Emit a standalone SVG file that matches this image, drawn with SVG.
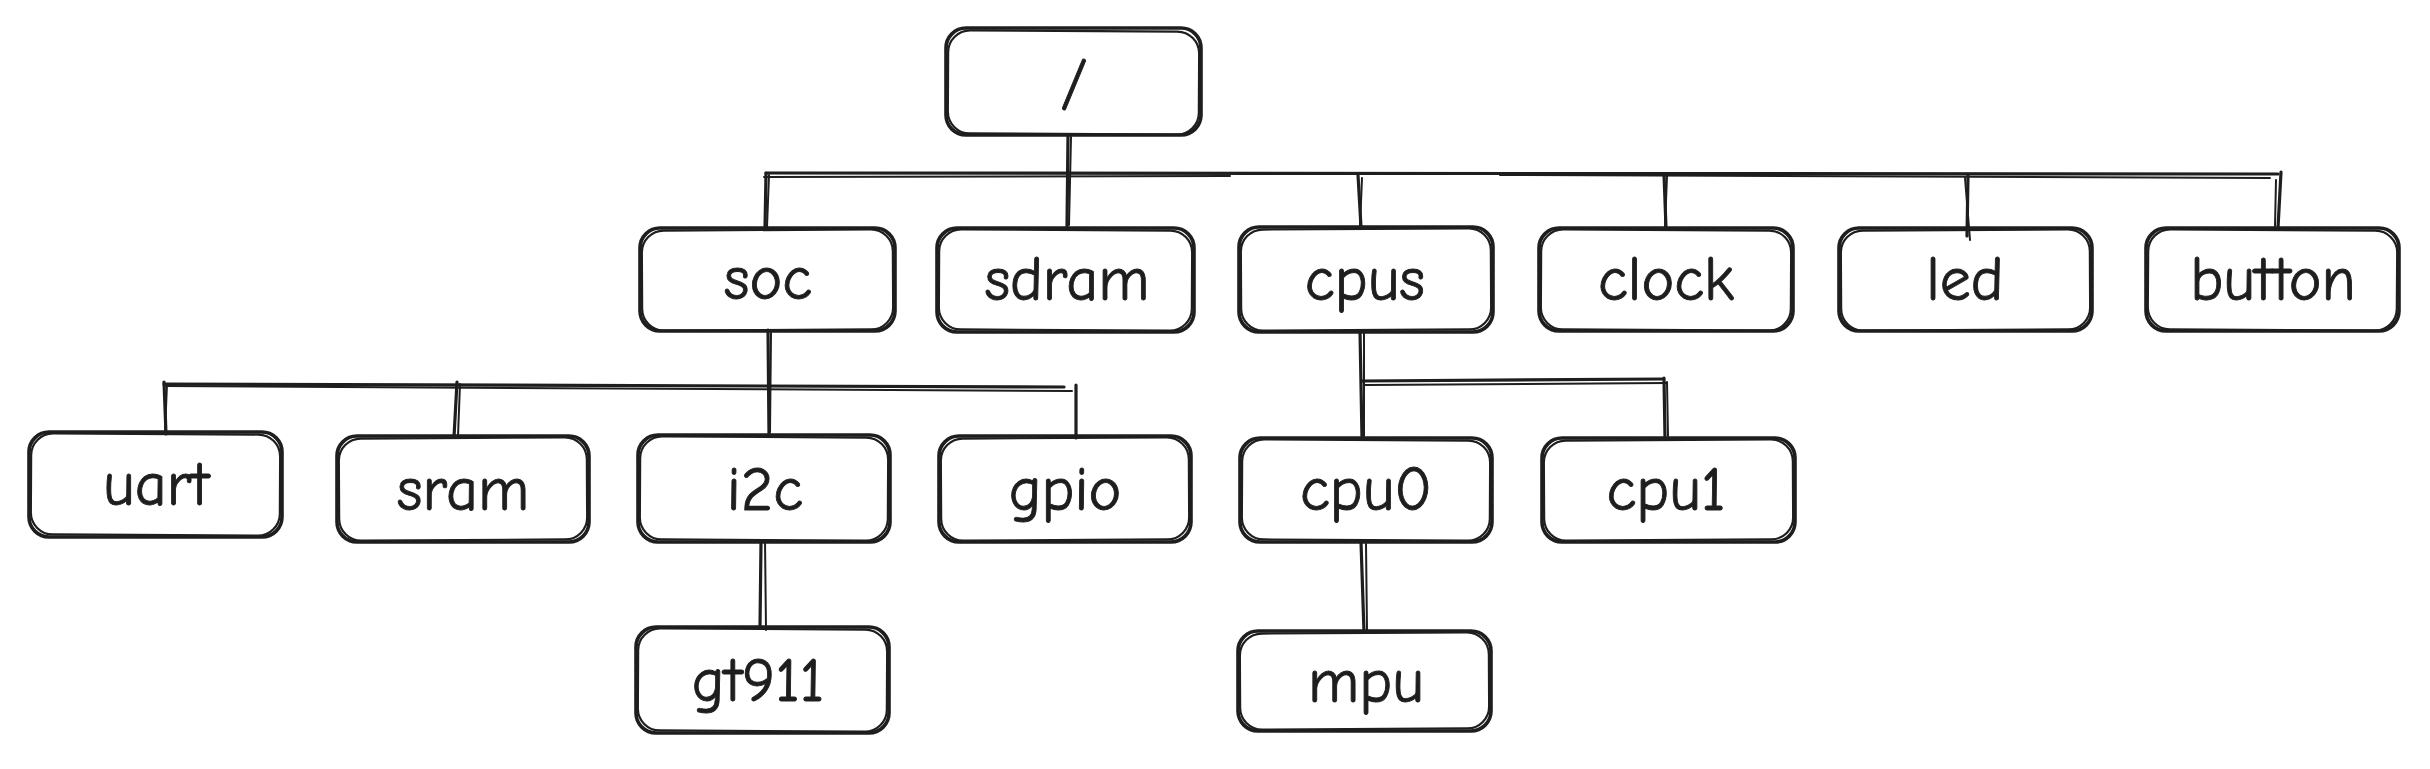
<svg xmlns="http://www.w3.org/2000/svg" width="2430" height="769" viewBox="0 0 2430 769">
<style>
.bg{fill:#ffffff}
.b1{fill:none;stroke:#1e1e1e;stroke-width:3.6;stroke-linecap:round;stroke-linejoin:round}
.b2{fill:none;stroke:#1e1e1e;stroke-width:2.2;stroke-linecap:round;stroke-linejoin:round}
.c1{fill:none;stroke:#1e1e1e;stroke-width:3.2;stroke-linecap:round}
.c2{fill:none;stroke:#1e1e1e;stroke-width:2;stroke-linecap:round}
.t{font-family:"Comic Neue","Liberation Sans",Arial,sans-serif;font-size:62px;fill:#1e1e1e;stroke:#1e1e1e;stroke-width:0.9;text-anchor:middle}
</style>
<rect class="bg" x="0" y="0" width="2430" height="769"/>
<g id="connectors">
  <path class="c1" d="M1068 135 L1067 226"/>
  <path class="c2" d="M1071 137 L1069 225"/>
  <path class="c1" d="M766 173 L2278 174"/>
  <path class="c2" d="M764 177 L1230 176 M1500 175 L2270 178"/>
  <path class="c1" d="M766 173 L765 228"/>
  <path class="c2" d="M769 175 L767 227"/>
  <path class="c1" d="M1358 175 L1361 227"/>
  <path class="c2" d="M1362 178 L1360 226"/>
  <path class="c1" d="M1664 174 L1666 228"/>
  <path class="c2" d="M1667 176 L1665 226"/>
  <path class="c1" d="M1968 175 L1967 236"/>
  <path class="c2" d="M1965 178 L1970 240"/>
  <path class="c1" d="M2281 172 L2278 228"/>
  <path class="c2" d="M2276 180 L2275 226"/>
  <path class="c1" d="M768 330 L769 435"/>
  <path class="c2" d="M771 333 L770 432"/>
  <path class="c1" d="M164 384 L1064 387"/>
  <path class="c2" d="M166 386 L1072 391"/>
  <path class="c1" d="M164 382 L166 434"/>
  <path class="c2" d="M167 384 L165 432"/>
  <path class="c1" d="M457 382 L454 437"/>
  <path class="c2" d="M460 384 L458 436"/>
  <path class="c1" d="M1076 385 L1076 438"/>
  <path class="c1" d="M761 542 L760 627"/>
  <path class="c2" d="M765 540 L766 630"/>
  <path class="c1" d="M1360 331 L1362 438"/>
  <path class="c2" d="M1364 333 L1364 436"/>
  <path class="c1" d="M1362 381 L1663 379"/>
  <path class="c2" d="M1365 385 L1666 383"/>
  <path class="c1" d="M1664 378 L1665 438"/>
  <path class="c2" d="M1667 382 L1668 436"/>
  <path class="c1" d="M1361 542 L1364 632"/>
  <path class="c2" d="M1366 544 L1367 630"/>
</g>
<g id="node-root">
  <rect class="b1" x="946" y="28" width="255" height="107" rx="20"/>
  <rect class="b2" x="948" y="31" width="251" height="103" rx="22" transform="rotate(0.3 1073 82)"/>
  <text class="t" x="1074" y="102">/</text>
</g>
<g id="node-soc">
  <rect class="b1" x="640" y="228" width="255" height="103" rx="20"/>
  <rect class="b2" x="642" y="230" width="251" height="100" rx="22" transform="rotate(-0.3 767 280)"/>
  <text class="t" x="768" y="299">soc</text>
</g>
<g id="node-sdram">
  <rect class="b1" x="937" y="228" width="257" height="104" rx="20"/>
  <rect class="b2" x="939" y="230" width="253" height="100" rx="22" transform="rotate(0.3 1066 280)"/>
  <text class="t" x="1067" y="300">sdram</text>
</g>
<g id="node-cpus">
  <rect class="b1" x="1239" y="227" width="254" height="105" rx="20"/>
  <rect class="b2" x="1241" y="229" width="250" height="101" rx="22" transform="rotate(-0.3 1366 280)"/>
  <text class="t" x="1365" y="300">cpus</text>
</g>
<g id="node-clock">
  <rect class="b1" x="1539" y="228" width="254" height="103" rx="20"/>
  <rect class="b2" x="1541" y="230" width="250" height="100" rx="22" transform="rotate(0.3 1666 280)"/>
  <text class="t" x="1666" y="300">clock</text>
</g>
<g id="node-led">
  <rect class="b1" x="1839" y="228" width="253" height="103" rx="20"/>
  <rect class="b2" x="1841" y="230" width="249" height="100" rx="22" transform="rotate(-0.3 1965 280)"/>
  <text class="t" x="1965" y="300">led</text>
</g>
<g id="node-button">
  <rect class="b1" x="2146" y="228" width="253" height="103" rx="20"/>
  <rect class="b2" x="2148" y="230" width="249" height="100" rx="22" transform="rotate(0.4 2272 280)"/>
  <text class="t" x="2273" y="300">button</text>
</g>
<g id="node-uart">
  <rect class="b1" x="29" y="432" width="253" height="105" rx="20"/>
  <rect class="b2" x="31" y="434" width="249" height="101" rx="22" transform="rotate(0.3 155 484)"/>
  <text class="t" x="156" y="505">uart</text>
</g>
<g id="node-sram">
  <rect class="b1" x="337" y="436" width="252" height="106" rx="20"/>
  <rect class="b2" x="339" y="438" width="248" height="102" rx="22" transform="rotate(-0.3 463 489)"/>
  <text class="t" x="463" y="510">sram</text>
</g>
<g id="node-i2c">
  <rect class="b1" x="638" y="435" width="252" height="107" rx="20"/>
  <rect class="b2" x="640" y="437" width="248" height="103" rx="22" transform="rotate(0.3 764 488)"/>
  <text class="t" x="765" y="510">i2c</text>
</g>
<g id="node-gpio">
  <rect class="b1" x="939" y="436" width="252" height="106" rx="20"/>
  <rect class="b2" x="941" y="438" width="248" height="102" rx="22" transform="rotate(-0.3 1065 489)"/>
  <text class="t" x="1065" y="510">gpio</text>
</g>
<g id="node-cpu0">
  <rect class="b1" x="1240" y="438" width="252" height="104" rx="20"/>
  <rect class="b2" x="1242" y="440" width="248" height="100" rx="22" transform="rotate(0.3 1366 490)"/>
  <text class="t" x="1366" y="510">cpu0</text>
</g>
<g id="node-cpu1">
  <rect class="b1" x="1542" y="438" width="253" height="104" rx="20"/>
  <rect class="b2" x="1544" y="440" width="249" height="100" rx="22" transform="rotate(-0.3 1668 490)"/>
  <text class="t" x="1666" y="510">cpu1</text>
</g>
<g id="node-gt911">
  <rect class="b1" x="636" y="627" width="253" height="106" rx="20"/>
  <rect class="b2" x="638" y="629" width="249" height="102" rx="22" transform="rotate(0.3 762 680)"/>
  <text class="t" x="758" y="701">gt911</text>
</g>
<g id="node-mpu">
  <rect class="b1" x="1238" y="631" width="253" height="100" rx="20"/>
  <rect class="b2" x="1240" y="633" width="249" height="96" rx="22" transform="rotate(-0.3 1364 681)"/>
  <text class="t" x="1366" y="702">mpu</text>
</g>
</svg>
